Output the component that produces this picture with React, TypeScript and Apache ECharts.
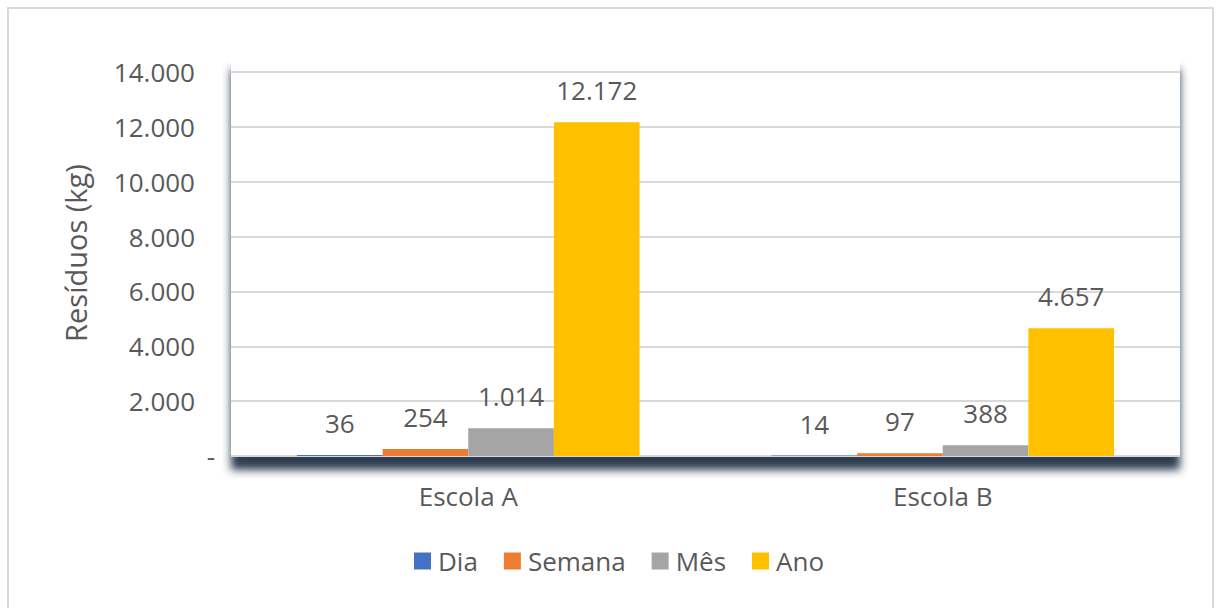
import React, { useEffect, useRef } from "react";
import * as echarts from "echarts";

const categories = ["Escola A", "Escola B"];
const seriesNames = ["Dia", "Semana", "Mês", "Ano"];
const dia = [36, 14];
const semana = [254, 97];
const mes = [1014, 388];
const ano = [12172, 4657];
const colors = ["#4472C4", "#ED7D31", "#A5A5A5", "#FFC000"];
const yMax = 14000;
const yInterval = 2000;

const FONT = "'Open Sans', 'Noto Sans', sans-serif";
const TEXT = "#595959";

const fmt = (v: number) =>
  v === 0 ? "-" : String(Math.round(v)).replace(/\B(?=(\d{3})+(?!\d))/g, ".");

const GRID = { left: 231, right: 36, top: 72, bottom: 152 };

export default function App() {
  const ref = useRef<HTMLDivElement>(null);
  useEffect(() => {
    if (!ref.current) return;
    const chart = echarts.init(ref.current, null, { renderer: "svg" });
    const W = 1216;
    const H = 608;
    const plotW = W - GRID.left - GRID.right;
    const plotBottom = H - GRID.bottom;
    const allData = [dia, semana, mes, ano];
    chart.setOption({
      animation: false,
      backgroundColor: "#ffffff",
      textStyle: { fontFamily: FONT },
      grid: { ...GRID, containLabel: false },
      legend: {
        data: seriesNames,
        left: 409,
        top: 543,
        icon: "rect",
        itemWidth: 17,
        itemHeight: 17,
        itemGap: 26,
        textStyle: { fontFamily: FONT, fontSize: 26, color: TEXT, padding: [0, 0, 0, 2] },
      },
      xAxis: {
        type: "category",
        data: categories,
        axisLine: { show: false },
        axisTick: { show: false },
        axisLabel: { fontFamily: FONT, fontSize: 26, color: TEXT, margin: 27 },
      },
      yAxis: {
        type: "value",
        min: 0,
        max: yMax,
        interval: yInterval,
        axisLine: { show: false },
        axisTick: { show: false },
        splitLine: { lineStyle: { color: "#D9D9D9", width: 2 } },
        axisLabel: {
          margin: 16,
          formatter: (v: number) => (v === 0 ? "{z|-}" : `{n|${fmt(v)}}`),
          rich: {
            n: { fontFamily: FONT, fontSize: 26, color: TEXT, padding: [0, 20, 0, 0] },
            z: { fontFamily: FONT, fontSize: 26, color: TEXT },
          },
        },
      },
      graphic: [
        {
          type: "rect",
          z: -2,
          silent: true,
          shape: { x: 8, y: 8, width: 1205, height: 700 },
          style: { fill: "#ffffff", stroke: "#D9D9D9", lineWidth: 2 },
        },
        {
          type: "rect",
          z: -1,
          silent: true,
          shape: { x: GRID.left, y: 55, width: plotW, height: plotBottom - 55 },
          style: {
            fill: "#ffffff",
            shadowBlur: 8,
            shadowOffsetX: 0,
            shadowOffsetY: 14,
            shadowColor: "rgba(32,48,72,0.95)",
          },
        },
        {
          type: "text",
          x: 75,
          y: 253,
          rotation: Math.PI / 2,
          silent: true,
          style: {
            text: "Resíduos (kg)",
            fontFamily: FONT,
            fontSize: 29,
            fill: TEXT,
            align: "center",
            verticalAlign: "middle",
          },
        },
      ],
      series: seriesNames.map((name, i) => ({
        name,
        type: "bar",
        data: allData[i],
        barGap: "0%",
        barCategoryGap: "27.8%",
        itemStyle: { color: colors[i] },
        label: {
          show: true,
          position: "top",
          distance: 19,
          fontFamily: FONT,
          fontSize: 26,
          color: TEXT,
          formatter: (p: any) => fmt(p.value),
        },
      })),
    });
    return () => chart.dispose();
  }, []);
  return (
    <div
      ref={ref}
      style={{ position: "fixed", left: 0, top: 0, width: 1216, height: 608 }}
    />
  );
}
